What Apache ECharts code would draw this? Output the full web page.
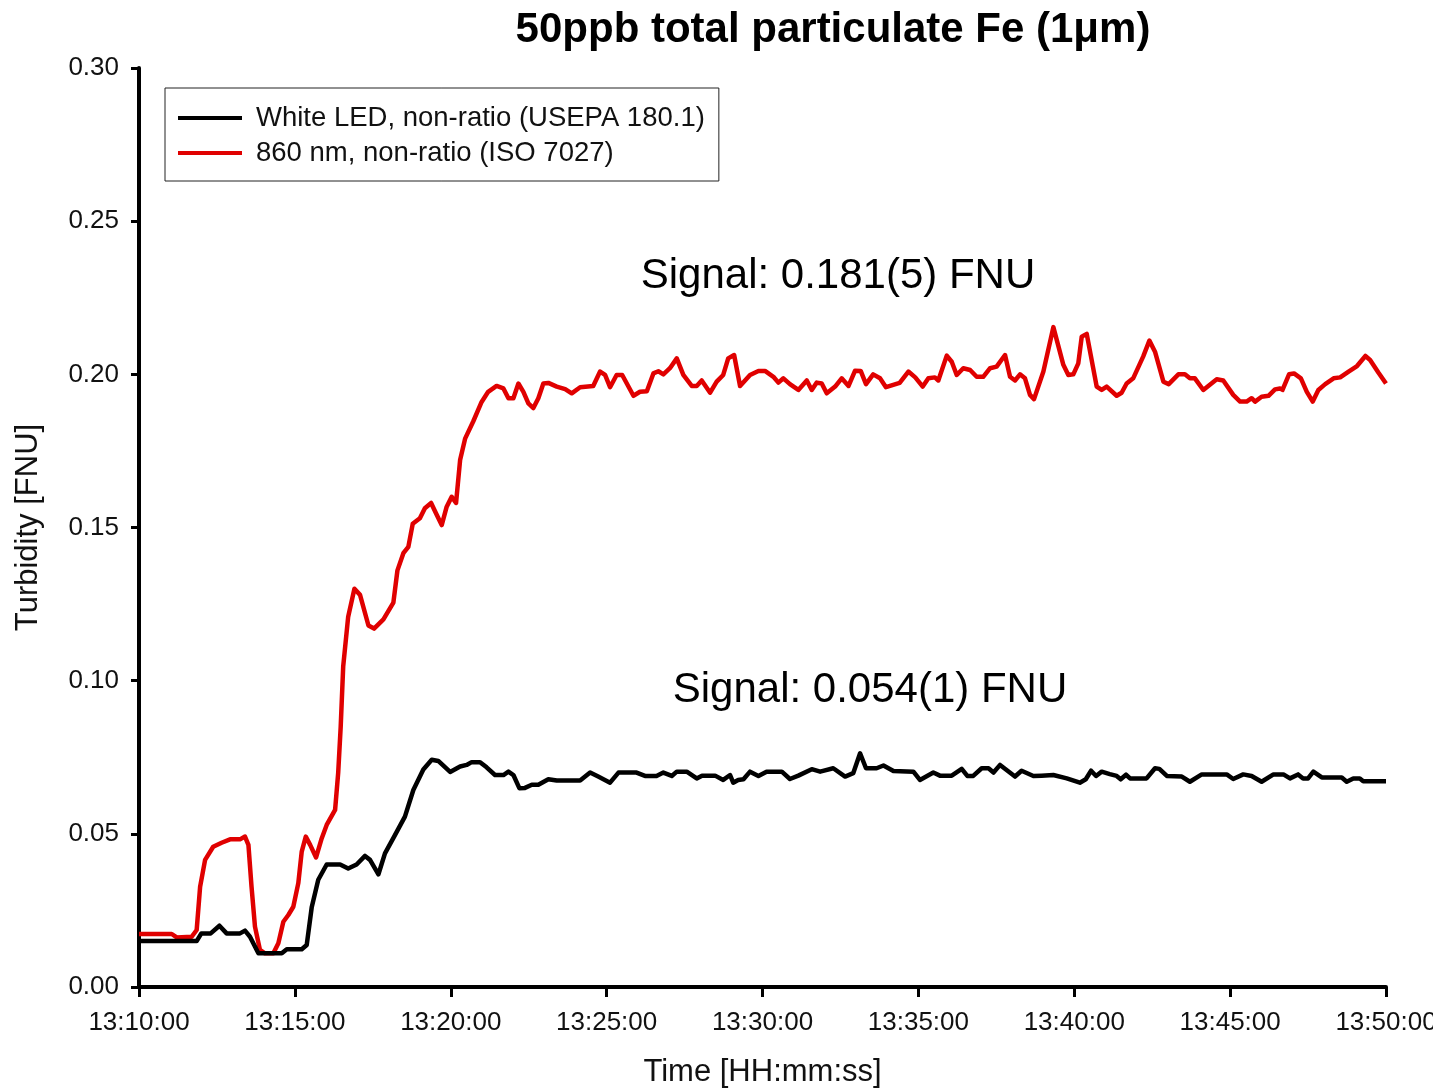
<!DOCTYPE html>
<html>
<head>
<meta charset="utf-8">
<title>50ppb total particulate Fe (1μm)</title>
<script src="https://cdn.jsdelivr.net/npm/echarts@6/dist/echarts.min.js"></script>
<style>
  html, body { margin: 0; padding: 0; background: #fff; }
  #chart { width: 1433px; height: 1088px; }
</style>
</head>
<body>
<div id="chart"></div>
<script>
// x values are minutes after 13:10:00
const tickLabels = ['13:10:00', '13:15:00', '13:20:00', '13:25:00', '13:30:00',
  '13:35:00', '13:40:00', '13:45:00', '13:50:00'];

// White LED, non-ratio (USEPA 180.1)
const ledMinutes = [0, 1.85, 2.0, 2.3, 2.58, 2.81, 3.24, 3.40, 3.56, 3.83, 4.58, 4.74, 5.22, 5.38,
  5.54, 5.75, 6.02, 6.45, 6.71, 6.98, 7.25, 7.41, 7.68, 7.89, 8.21, 8.53, 8.80, 9.12, 9.39, 9.60,
  9.98, 10.30, 10.51, 10.67, 10.94, 11.15, 11.42, 11.69, 11.85, 12.01, 12.20, 12.38, 12.60, 12.81,
  13.13, 13.40, 14.15, 14.47, 14.73, 15.11, 15.38, 15.96, 16.23, 16.60, 16.82, 17.09, 17.25, 17.57,
  17.89, 18.06, 18.48, 18.74, 18.96, 19.06, 19.22, 19.39, 19.60, 19.87, 20.13, 20.62, 20.88, 21.15,
  21.58, 21.85, 22.27, 22.65, 22.91, 23.13, 23.32, 23.66, 23.88, 24.20, 24.84, 25.05, 25.48, 25.69,
  26.07, 26.39, 26.57, 26.76, 27.03, 27.25, 27.41, 27.62, 28.10, 28.31, 28.69, 28.95, 29.33, 29.76,
  30.18, 30.37, 30.54, 30.70, 30.88, 31.14, 31.36, 31.49, 31.66, 31.79, 32.32, 32.59, 32.73, 32.97,
  33.45, 33.71, 34.09, 34.89, 35.10, 35.42, 35.69, 36.01, 36.39, 36.71, 36.92, 37.18, 37.34, 37.50,
  37.67, 37.94, 38.58, 38.74, 38.95, 39.16, 39.27, 40.0];
const ledTurbidity = [0.015, 0.015, 0.0175, 0.0175, 0.020, 0.0175, 0.0175, 0.0184, 0.0164, 0.011,
  0.011, 0.0123, 0.0123, 0.0137, 0.026, 0.035, 0.040, 0.040, 0.0387, 0.040, 0.0428, 0.0415, 0.0368,
  0.0436, 0.0496, 0.0556, 0.0643, 0.0710, 0.0742, 0.0738, 0.0702, 0.0720, 0.0725, 0.0734, 0.0734,
  0.0717, 0.0692, 0.0692, 0.0703, 0.0692, 0.0649, 0.065, 0.066, 0.066, 0.0678, 0.0674, 0.0674, 0.070,
  0.0687, 0.0667, 0.070, 0.070, 0.0689, 0.0689, 0.070, 0.0689, 0.0703, 0.0703, 0.0681, 0.069, 0.069,
  0.0676, 0.0692, 0.0667, 0.0676, 0.0678, 0.0703, 0.0689, 0.0703, 0.0703, 0.0679, 0.069, 0.0711,
  0.0703, 0.0714, 0.0687, 0.0698, 0.0763, 0.0714, 0.0714, 0.0723, 0.0705, 0.0703, 0.0676, 0.070,
  0.069, 0.069, 0.0712, 0.0689, 0.0689, 0.0714, 0.0714, 0.070, 0.0725, 0.0687, 0.0706, 0.0689, 0.069,
  0.0692, 0.0681, 0.0667, 0.0678, 0.0706, 0.0689, 0.0703, 0.0695, 0.0689, 0.0678, 0.0693, 0.0681,
  0.0681, 0.0714, 0.0712, 0.0689, 0.0687, 0.067, 0.0694, 0.0694, 0.0679, 0.0694, 0.0689, 0.067,
  0.0694, 0.0694, 0.0681, 0.0694, 0.0681, 0.0681, 0.0703, 0.0684, 0.0684, 0.067, 0.0681, 0.0681,
  0.0672, 0.0672];

// 860 nm, non-ratio (ISO 7027)
const nm860Minutes = [0, 1.05, 1.21, 1.69, 1.85, 1.96, 2.12, 2.38, 2.65, 2.92, 3.24, 3.40, 3.51,
  3.61, 3.72, 3.88, 4.04, 4.31, 4.47, 4.63, 4.79, 4.95, 5.11, 5.22, 5.35, 5.49, 5.68, 5.86, 6.02,
  6.29, 6.39, 6.47, 6.55, 6.71, 6.91, 7.09, 7.36, 7.54, 7.84, 8.16, 8.29, 8.48, 8.64, 8.78, 9.01,
  9.17, 9.37, 9.53, 9.71, 9.87, 10.03, 10.17, 10.30, 10.46, 10.72, 10.99, 11.20, 11.47, 11.69, 11.85,
  12.01, 12.17, 12.33, 12.49, 12.65, 12.81, 12.97, 13.13, 13.40, 13.67, 13.88, 14.15, 14.57, 14.79,
  14.95, 15.11, 15.32, 15.50, 15.86, 16.07, 16.29, 16.50, 16.66, 16.82, 17.03, 17.25, 17.46, 17.73,
  17.89, 18.05, 18.32, 18.53, 18.74, 18.90, 19.09, 19.28, 19.60, 19.87, 20.08, 20.35, 20.51, 20.67,
  20.88, 21.15, 21.42, 21.58, 21.74, 21.90, 22.06, 22.33, 22.54, 22.76, 22.97, 23.15, 23.32, 23.55,
  23.77, 23.96, 24.40, 24.68, 24.90, 25.14, 25.32, 25.53, 25.64, 25.91, 26.07, 26.23, 26.44, 26.66,
  26.87, 27.08, 27.30, 27.51, 27.78, 27.94, 28.10, 28.26, 28.42, 28.58, 28.71, 29.01, 29.33, 29.65,
  29.81, 29.97, 30.13, 30.24, 30.40, 30.72, 30.88, 31.04, 31.36, 31.52, 31.68, 31.89, 32.21, 32.41,
  32.59, 32.86, 33.03, 33.34, 33.55, 33.71, 33.87, 34.14, 34.57, 34.78, 35.10, 35.32, 35.53, 35.69,
  35.80, 36.01, 36.23, 36.44, 36.60, 36.68, 36.89, 37.05, 37.27, 37.46, 37.65, 37.83, 38.05, 38.32,
  38.53, 38.80, 39.07, 39.34, 39.49, 39.76, 40.0];
const nm860Turbidity = [0.0173, 0.0173, 0.0162, 0.0164, 0.0186, 0.0327, 0.0415, 0.0458, 0.0471,
  0.0482, 0.0482, 0.0491, 0.0464, 0.0327, 0.0197, 0.0121, 0.011, 0.011, 0.0143, 0.0213, 0.0235,
  0.0262, 0.0339, 0.0442, 0.0491, 0.0464, 0.0423, 0.0485, 0.0529, 0.0578, 0.070, 0.085, 0.1046,
  0.1209, 0.130, 0.128, 0.118, 0.117, 0.120, 0.1255, 0.136, 0.1416, 0.1437, 0.1512, 0.153, 0.1563,
  0.158, 0.1546, 0.1508, 0.1568, 0.160, 0.158, 0.172, 0.179, 0.1846, 0.191, 0.1943, 0.1962, 0.1954,
  0.1922, 0.1922, 0.197, 0.1943, 0.1905, 0.189, 0.1922, 0.197, 0.1972, 0.196, 0.1952, 0.1938, 0.1958,
  0.1962, 0.2009, 0.1998, 0.1958, 0.1998, 0.1998, 0.193, 0.1943, 0.1945, 0.2003, 0.201, 0.200, 0.202,
  0.2052, 0.1998, 0.1962, 0.1962, 0.198, 0.194, 0.1976, 0.1998, 0.2052, 0.2063, 0.1962, 0.1998,
  0.2011, 0.2011, 0.1992, 0.1973, 0.1987, 0.1968, 0.1949, 0.198, 0.1949, 0.1973, 0.197, 0.1938,
  0.196, 0.1987, 0.1962, 0.2012, 0.2011, 0.1968, 0.200, 0.1987, 0.1958, 0.1972, 0.2009, 0.199, 0.196,
  0.1987, 0.199, 0.198, 0.2061, 0.2041, 0.1998, 0.202, 0.2014, 0.1992, 0.1992, 0.202, 0.2025, 0.2063,
  0.1992, 0.198, 0.200, 0.1987, 0.1933, 0.1919, 0.2009, 0.2154, 0.2031, 0.1998, 0.200, 0.2036,
  0.2123, 0.2132, 0.196, 0.1949, 0.196, 0.193, 0.194, 0.197, 0.1987, 0.2058, 0.211, 0.2074, 0.1976,
  0.1968, 0.200, 0.200, 0.1987, 0.1987, 0.1949, 0.1984, 0.198, 0.1933, 0.1911, 0.1911, 0.1922, 0.1911,
  0.1927, 0.193, 0.1951, 0.1954, 0.1949, 0.200, 0.2003, 0.1987, 0.1943, 0.1911, 0.1949, 0.1968,
  0.1987, 0.199, 0.2009, 0.2027, 0.206, 0.2047, 0.2005, 0.197];

const seriesNames = ['White LED, non-ratio (USEPA 180.1)', '860 nm, non-ratio (ISO 7027)'];
const signalLabels = ['Signal: 0.181(5) FNU', 'Signal: 0.054(1) FNU'];

const FONT = '"Liberation Sans", Arial, sans-serif';

function pairs(xs, ys) {
  return xs.map((x, i) => [x, ys[i]]);
}

const chart = echarts.init(document.getElementById('chart'), null, { renderer: 'canvas' });

chart.setOption({
  animation: false,
  backgroundColor: '#fff',
  textStyle: { fontFamily: FONT, color: '#111' },
  title: {
    text: '50ppb total particulate Fe (1μm)',
    left: 828,
    top: 4,
    textAlign: 'center',
    textStyle: { fontFamily: FONT, fontSize: 42, fontWeight: 'bold', color: '#000' }
  },
  legend: {
    orient: 'vertical',
    left: 165,
    top: 88,
    icon: 'rect',
    itemWidth: 64,
    itemHeight: 4,
    itemGap: 7,
    padding: [16, 14, 14, 13],
    borderColor: '#222',
    borderWidth: 1,
    data: seriesNames,
    textStyle: { fontFamily: FONT, fontSize: 27.5, color: '#111', padding: [0, 0, 0, 9] }
  },
  // keep the plot box fixed; the last tick label runs off the right edge as in the original
  grid: { left: 139, right: 47, top: 68, bottom: 101, outerBoundsMode: 'none' },
  xAxis: {
    type: 'value',
    min: 0,
    max: 40,
    interval: 5,
    name: 'Time [HH:mm:ss]',
    nameLocation: 'middle',
    nameGap: 70,
    nameTextStyle: { fontFamily: FONT, fontSize: 31, color: '#111' },
    axisLine: { lineStyle: { color: '#000', width: 4 } },
    axisTick: { length: 10, lineStyle: { color: '#000', width: 3 } },
    axisLabel: {
      margin: 23,
      fontSize: 26,
      color: '#111',
      showMaxLabel: true,
      formatter: (v) => tickLabels[Math.round(v / 5)]
    },
    splitLine: { show: false }
  },
  yAxis: {
    type: 'value',
    min: 0,
    max: 0.3,
    interval: 0.05,
    name: 'Turbidity [FNU]',
    nameLocation: 'middle',
    nameGap: 95,
    nameTextStyle: { fontFamily: FONT, fontSize: 31, color: '#111' },
    axisLine: { show: true, lineStyle: { color: '#000', width: 4 } },
    axisTick: { show: true, length: 8, lineStyle: { color: '#000', width: 3 } },
    axisLabel: {
      margin: 20,
      fontSize: 26,
      color: '#111',
      formatter: (v) => v.toFixed(2)
    },
    splitLine: { show: false }
  },
  graphic: [
    {
      type: 'text', x: 838, y: 276,
      style: { text: signalLabels[0], font: '42px ' + FONT, fill: '#000', align: 'center', verticalAlign: 'middle' }
    },
    {
      type: 'text', x: 870, y: 690,
      style: { text: signalLabels[1], font: '42px ' + FONT, fill: '#000', align: 'center', verticalAlign: 'middle' }
    }
  ],
  series: [
    {
      name: seriesNames[0],
      type: 'line',
      data: pairs(ledMinutes, ledTurbidity),
      showSymbol: false,
      symbol: 'none',
      lineStyle: { color: '#000', width: 4.5, join: 'round' },
      itemStyle: { color: '#000' },
      z: 3
    },
    {
      name: seriesNames[1],
      type: 'line',
      data: pairs(nm860Minutes, nm860Turbidity),
      showSymbol: false,
      symbol: 'none',
      lineStyle: { color: '#e00000', width: 4.5, join: 'round' },
      itemStyle: { color: '#e00000' },
      z: 2
    }
  ]
});
</script>
</body>
</html>
